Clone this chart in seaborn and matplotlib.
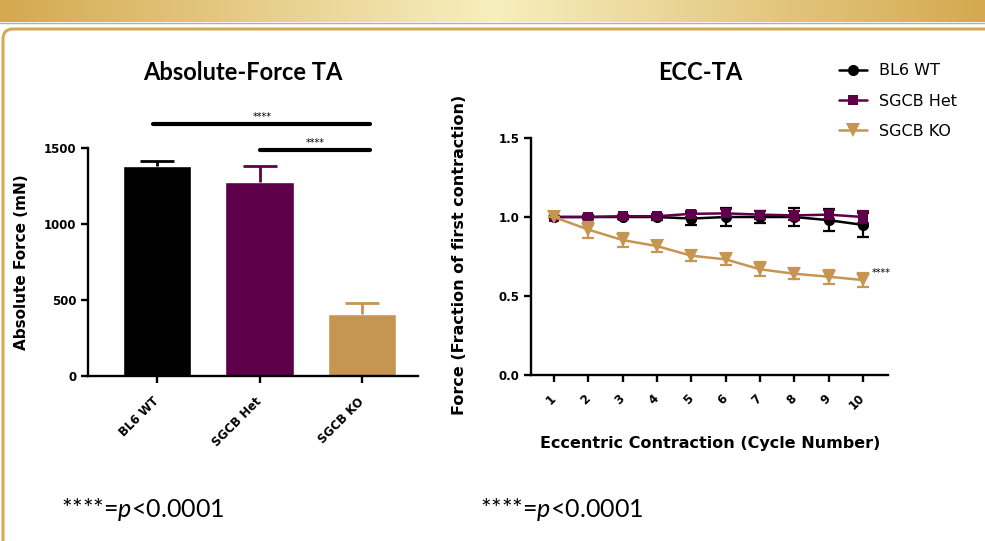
### Import libraries
import numpy as np
import pandas as pd
import matplotlib
matplotlib.use("Agg")
import matplotlib.pyplot as plt
import matplotlib.patches as mpatches
import matplotlib.transforms as mtransforms
from matplotlib.lines import Line2D
import seaborn as sns

sns.set_style("ticks")
plt.rcParams['font.family'] = ['DejaVu Sans']
plt.rcParams['mathtext.fontset'] = 'custom'
plt.rcParams['mathtext.it'] = 'Lato:italic'
plt.rcParams['mathtext.rm'] = 'Lato'
for key in ('text.color', 'axes.labelcolor', 'xtick.color', 'ytick.color',
            'axes.edgecolor'):
    plt.rcParams[key] = 'black'

### data
groups = ["BL6 WT", "SGCB Het", "SGCB KO"]
colors = ["#000000", "#5E0049", "#C69551"]
force_mean = [1382, 1276, 408]
force_sem = [32, 106, 72]

cycles = [1, 2, 3, 4, 5, 6, 7, 8, 9, 10]
wt_mean = [1.00, 1.00, 1.00, 1.00, 0.99, 1.00, 1.00, 1.00, 0.98, 0.95]
wt_err = [0.00, 0.01, 0.01, 0.02, 0.04, 0.06, 0.04, 0.06, 0.07, 0.075]
het_mean = [1.00, 1.00, 1.005, 1.005, 1.02, 1.023, 1.015, 1.01, 1.015, 1.00]
het_err = [0.00, 0.01, 0.01, 0.015, 0.02, 0.025, 0.025, 0.03, 0.03, 0.04]
ko_mean = [1.00, 0.92, 0.854, 0.816, 0.755, 0.732, 0.669, 0.641, 0.622, 0.601]
ko_err = [0.00, 0.05, 0.045, 0.035, 0.035, 0.035, 0.045, 0.035, 0.045, 0.045]

W, H = 985, 541


def fx(px):
    return px / W


def fy(py):
    return 1 - py / H


fig = plt.figure(figsize=(W / 100, H / 100), dpi=100)

### slide decoration: gold banner + frame
ax_b = fig.add_axes([0, fy(22), 1, 22 / H])
edge = np.array([212, 169, 79]) / 255
centre = np.array([247, 239, 191]) / 255
t = np.abs(np.linspace(-1, 1, 400))[None, :, None]
ax_b.imshow(centre + (edge - centre) * t, aspect='auto')
ax_b.axis('off')
fig.add_artist(Line2D([0, 1], [fy(22.5), fy(22.5)], color='#B8B09A', lw=1))
frame = mpatches.FancyBboxPatch((3, -30), 1100, H - 29 + 30,
                                boxstyle="round,pad=0,rounding_size=10",
                                fill=False, ec='#D4AA55', lw=2.2,
                                transform=mtransforms.IdentityTransform())
fig.add_artist(frame)

### bar chart
ax1 = fig.add_axes([fx(88), fy(376), fx(418) - fx(88), (376 - 148) / H])
sns.barplot(x=groups, y=force_mean, hue=groups, palette=colors, width=0.67,
            saturation=1, legend=False, ax=ax1)
for i, c in enumerate(colors):
    eb = ax1.errorbar(i, force_mean[i], yerr=[[0], [force_sem[i]]],
                      fmt='none', ecolor=c, elinewidth=2, capsize=12,
                      capthick=2)
    eb[1][0].set_visible(False)  # only the upper cap
ax1.set_xlim(-0.673, 2.546)
ax1.set_ylim(0, 1500)
ax1.set_yticks([0, 500, 1000, 1500])
ax1.set_ylabel("Absolute Force (mN)", fontsize=11, fontweight='bold')
ax1.yaxis.set_label_coords(-0.18, 0.5)
ax1.set_xticks(range(3))
ax1.set_xticklabels(groups, rotation=45, ha='right', va='center',
                    rotation_mode='anchor', fontsize=9.5, fontweight='bold')

for y, x0, xm in [(1658, -0.04, 1.03), (1487, 1.0, 1.54)]:
    ax1.plot([x0, 2.08], [y, y], color='k', lw=3, clip_on=False,
             solid_capstyle='round')
    ax1.text(xm, y + 10, "****", fontsize=7, ha='center', va='bottom')

### ECC line chart
ax2 = fig.add_axes([fx(531), fy(375), fx(888) - fx(531), 237 / H])
series = [(wt_mean, wt_err, 'o', 8), (het_mean, het_err, 's', 7.5),
          (ko_mean, ko_err, 'v', 9.5)]
for k, (m, e, mk, ms) in enumerate(series):
    df = pd.DataFrame({"cycle": cycles, "force": m})
    sns.lineplot(data=df, x="cycle", y="force", color=colors[k], marker=mk,
                 markersize=ms, markeredgewidth=0, lw=1.8, label=groups[k],
                 zorder=3 + k, ax=ax2)
    ax2.errorbar(cycles, m, yerr=e, fmt='none', ecolor=colors[k],
                 elinewidth=1.6, capsize=4.5, capthick=1.6, zorder=3 + k)
ax2.set_xlim(0.33, 10.73)
ax2.set_ylim(0, 1.5)
ax2.set_yticks([0, 0.5, 1.0, 1.5])
ax2.set_yticklabels(["0.0", "0.5", "1.0", "1.5"])
ax2.set_xticks(cycles)
ax2.set_xticklabels([str(c) for c in cycles], rotation=45, ha='right',
                    va='center', rotation_mode='anchor', fontsize=8.5,
                    fontweight='bold')
ax2.set_ylabel("Force (Fraction of first contraction)", fontsize=11.5,
               fontweight='bold')
ax2.yaxis.set_label_coords(-0.179, 0.506)
ax2.set_xlabel("Eccentric Contraction (Cycle Number)", fontsize=11.5,
               fontweight='bold')
ax2.xaxis.set_label_coords(0.501, -0.257)
ax2.text(10.27, 0.646, "****", fontsize=7, va='center', clip_on=False)

handles, labels = ax2.get_legend_handles_labels()
ax2.legend(handles, labels, loc='upper left', frameon=False,
           bbox_to_anchor=(fx(825), fy(49)), bbox_transform=fig.transFigure,
           fontsize=11.5, handlelength=1.75, handletextpad=0.7,
           labelspacing=0.95)

for ax in (ax1, ax2):
    sns.despine(ax=ax)
    for s in ('left', 'bottom'):
        ax.spines[s].set_linewidth(1.7)
    ax.tick_params(width=1.7, length=5, labelsize=8.5)
    for lab in ax.get_yticklabels():
        lab.set_fontweight('bold')
ax1.tick_params(axis='x', pad=12)
ax2.tick_params(axis='x', pad=10.5)

### titles and footnotes
fig.text(fx(243), fy(72), "Absolute-Force TA", fontfamily='Lato',
         fontweight='bold', fontsize=17, ha='center', va='center')
fig.text(fx(700), fy(72), "ECC-TA", fontfamily='Lato', fontweight='bold',
         fontsize=17, ha='center', va='center')
for x in (61, 480):
    fig.text(fx(x), fy(517), r"****=$\mathit{p}$<0.0001", fontfamily='Lato',
             fontsize=18, va='baseline')

plt.savefig("out.png", dpi=100)
plt.close()
